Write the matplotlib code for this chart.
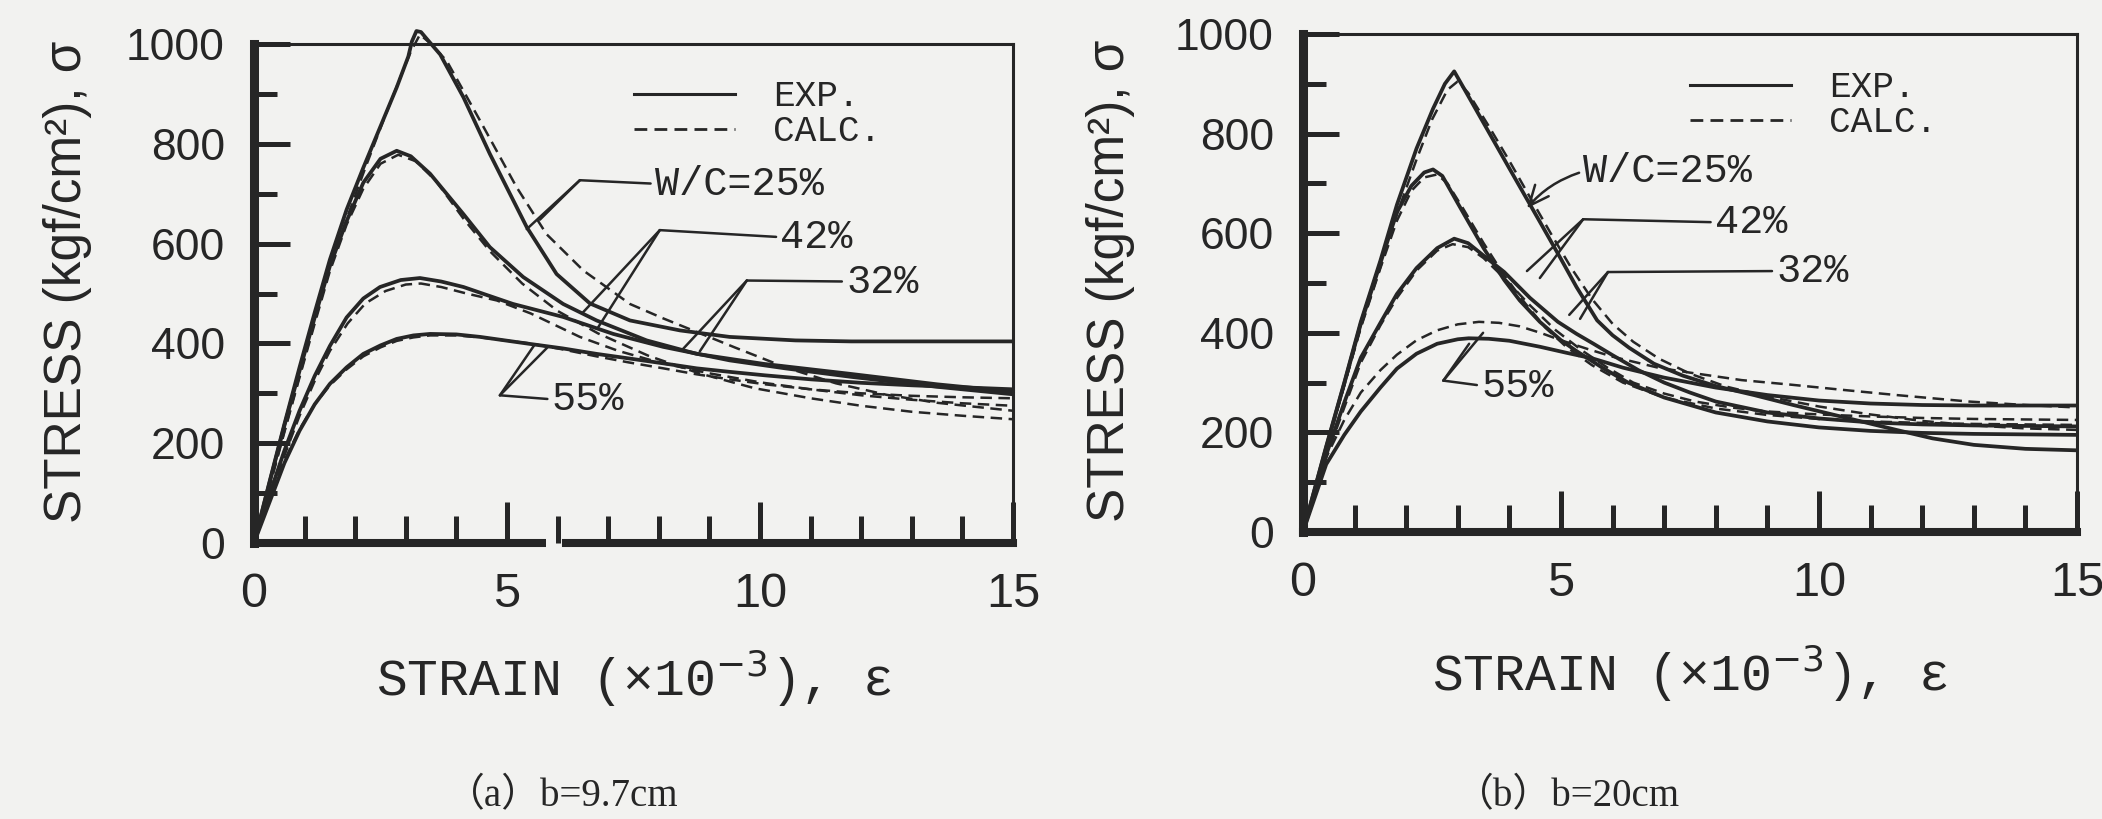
import matplotlib
matplotlib.use("Agg")
import matplotlib.pyplot as plt
from matplotlib.lines import Line2D
from matplotlib.ticker import FixedLocator, MultipleLocator

# ---------------- panel (a): b = 9.7 cm ----------------
a25_exp_x = [0, 0.3, 0.6, 0.9, 1.2, 1.5, 1.83, 2.16, 2.5, 2.82, 3.05, 3.12, 3.21, 3.3, 3.4, 3.68,
             4.14, 4.66, 5.39, 5.98, 6.64, 7.43, 8.42, 9.4, 10.7, 11.8, 13.0, 14.0, 15.0]
a25_exp_y = [0, 120, 238, 352, 462, 568, 668, 752, 835, 913, 975, 1005, 1026, 1024, 1012, 979,
             893, 780, 633, 539, 480, 446, 426, 413, 406, 404, 404, 404, 404]
a25_calc_x = [0, 0.3, 0.6, 0.9, 1.2, 1.5, 1.85, 2.2, 2.55, 2.9, 3.1, 3.28, 3.5, 3.81, 4.47,
              5.19, 5.78, 6.51, 7.43, 8.09, 8.7, 9.5, 10.5, 11.5, 12.5, 13.5, 15.0]
a25_calc_y = [0, 112, 224, 335, 445, 550, 655, 752, 845, 935, 985, 1019, 1000, 966, 846,
              713, 619, 546, 479, 450, 425, 392, 352, 320, 297, 281, 265]

a42_exp_x = [0, 0.3, 0.6, 0.9, 1.2, 1.5, 1.83, 2.16, 2.5, 2.82, 3.1, 3.48, 4.14, 4.66, 5.32,
             6.11, 6.77, 7.76, 8.75, 10.07, 11.78, 13.5, 15.0]
a42_exp_y = [0, 118, 235, 345, 452, 555, 645, 722, 770, 786, 775, 740, 659, 593, 533,
             479, 446, 406, 379, 359, 339, 318, 303]
a42_calc_x = [0, 0.3, 0.6, 0.9, 1.2, 1.5, 1.83, 2.16, 2.5, 2.85, 3.2, 3.6, 4.14, 4.66, 5.3,
              6.0, 6.8, 7.8, 8.8, 9.9, 11.0, 12.0, 13.0, 14.0, 15.0]
a42_calc_y = [0, 110, 222, 332, 440, 545, 638, 710, 760, 778, 765, 725, 650, 585, 520,
              465, 420, 375, 340, 310, 290, 275, 263, 255, 248]

a32_exp_x = [0, 0.3, 0.6, 0.9, 1.2, 1.5, 1.83, 2.16, 2.49, 2.9, 3.28, 3.7, 4.14, 4.6, 5.12,
             6.11, 7.1, 8.09, 9.4, 10.5, 11.8, 13.5, 15.0]
a32_exp_y = [0, 95, 185, 265, 335, 395, 452, 490, 513, 527, 531, 524, 513, 497, 479,
             453, 419, 393, 366, 350, 333, 313, 298]
a32_calc_x = [0, 0.3, 0.6, 0.9, 1.2, 1.5, 1.85, 2.2, 2.6, 3.0, 3.3, 3.7, 4.2, 4.8, 5.47,
              6.44, 7.2, 8.0, 9.0, 10.0, 11.0, 12.0, 13.0, 14.0, 15.0]
a32_calc_y = [0, 90, 175, 255, 325, 385, 440, 480, 505, 518, 520, 513, 500, 486, 460,
              413, 385, 362, 340, 322, 308, 296, 287, 280, 275]

a55_x = [0, 0.3, 0.6, 0.9, 1.2, 1.5, 1.83, 2.16, 2.5, 2.82, 3.15, 3.48, 4.0, 4.47, 5.45,
         6.1, 6.77, 7.4, 8.09, 8.75, 9.4, 10.1, 11.0, 12.0, 13.0, 14.0, 15.0]
a55_exp_y = [0, 80, 160, 225, 278, 319, 352, 379, 396, 409, 416, 419, 418, 413, 399,
             390, 379, 370, 360, 350, 343, 336, 328, 321, 316, 312, 308]
a55_calc_y = [0, 85, 165, 228, 278, 316, 348, 374, 392, 405, 412, 416, 416, 412, 400,
              388, 374, 362, 350, 338, 328, 318, 308, 300, 295, 292, 290]

# ---------------- panel (b): b = 20 cm ----------------
b25_exp_x = [0, 0.45, 0.8, 1.12, 1.5, 1.82, 2.2, 2.52, 2.75, 2.93, 3.2, 3.6, 4.0, 4.32, 4.59,
             5.0, 5.3, 5.7, 6.0, 6.32, 6.8, 7.36, 8.0, 8.74, 9.5, 10.5, 11.5, 12.2, 13.0, 14.0, 15.0]
b25_exp_y = [0, 172, 300, 422, 545, 657, 770, 850, 900, 925, 876, 803, 730, 672, 623,
             548, 492, 425, 395, 370, 338, 314, 293, 275, 255, 230, 205, 188, 175, 167, 164]
b25_calc_x = [0, 0.45, 0.8, 1.12, 1.5, 1.82, 2.2, 2.5, 2.8, 3.0, 3.2, 3.6, 4.0, 4.4, 4.8,
              5.2, 5.6, 6.0, 6.4, 6.9, 7.5, 8.2, 9.0, 10.0, 11.0, 12.0, 13.0, 14.0, 15.0]
b25_calc_y = [0, 168, 295, 412, 532, 638, 748, 828, 888, 905, 882, 815, 745, 672, 600,
              530, 468, 418, 382, 348, 318, 292, 272, 252, 236, 223, 214, 208, 205]

b42_exp_x = [0, 0.45, 0.8, 1.12, 1.5, 1.82, 2.1, 2.35, 2.52, 2.7, 3.0, 3.21, 3.5, 3.9, 4.2,
             4.59, 5.0, 5.29, 5.8, 6.3, 7.0, 8.0, 9.0, 10.0, 11.0, 12.0, 13.0, 14.0, 15.0]
b42_exp_y = [0, 170, 298, 418, 540, 642, 695, 722, 728, 715, 660, 622, 570, 506, 465,
             422, 385, 364, 330, 300, 270, 240, 222, 210, 203, 199, 197, 196, 195]
b42_calc_x = [0, 0.45, 0.8, 1.12, 1.5, 1.82, 2.1, 2.35, 2.6, 2.8, 3.1, 3.5, 3.9, 4.3, 4.7,
              5.1, 5.6, 6.2, 7.0, 8.0, 9.0, 10.0, 11.0, 12.0, 13.0, 14.0, 15.0]
b42_calc_y = [0, 168, 295, 410, 530, 625, 685, 712, 718, 700, 650, 580, 515, 460, 410,
              372, 335, 300, 270, 248, 235, 227, 222, 219, 217, 216, 215]

b32_exp_x = [0, 0.45, 0.8, 1.12, 1.5, 1.82, 2.2, 2.6, 2.93, 3.2, 3.5, 3.9, 4.4, 4.94, 5.3,
             5.63, 6.0, 6.5, 7.0, 7.5, 8.0, 9.0, 10.0, 11.0, 12.0, 13.0, 14.0, 15.0]
b32_exp_y = [0, 155, 260, 350, 420, 478, 530, 570, 589, 580, 555, 522, 470, 422, 398,
             378, 355, 325, 300, 280, 262, 240, 228, 220, 216, 214, 213, 212]
b32_calc_x = [0, 0.45, 0.8, 1.12, 1.5, 1.82, 2.2, 2.6, 2.9, 3.2, 3.5, 3.9, 4.4, 4.9, 5.4,
              5.9, 6.4, 7.0, 7.6, 8.3, 9.0, 10.0, 11.0, 12.0, 13.0, 14.0, 15.0]
b32_calc_y = [0, 150, 250, 340, 415, 470, 525, 565, 578, 572, 550, 510, 455, 405, 365,
              330, 300, 278, 262, 250, 242, 236, 232, 229, 227, 226, 225]

b55_exp_x = [0, 0.45, 0.8, 1.12, 1.5, 1.82, 2.2, 2.6, 3.0, 3.21, 3.6, 4.0, 4.59, 5.1, 5.63,
             6.2, 7.0, 8.0, 9.0, 10.0, 11.0, 12.0, 13.0, 14.0, 15.0]
b55_exp_y = [0, 136, 195, 242, 290, 328, 358, 378, 387, 389, 388, 384, 372, 360, 348,
             330, 310, 290, 275, 264, 258, 255, 254, 254, 254]
b55_calc_x = [0, 0.45, 0.8, 1.12, 1.5, 1.82, 2.2, 2.6, 3.0, 3.41, 3.8, 4.2, 4.6, 5.0, 5.5,
              6.0, 6.88, 7.5, 8.5, 9.44, 10.5, 11.5, 12.9, 14.0, 15.0]
b55_calc_y = [0, 150, 225, 280, 325, 356, 385, 405, 417, 422, 420, 413, 400, 385, 368,
              352, 330, 320, 305, 296, 285, 275, 262, 255, 250]

# ---------------- text ----------------
x_tick_values = [0, 5, 10, 15]
y_tick_values = [0, 200, 400, 600, 800, 1000]
legend_labels = ["EXP.", "CALC."]
series_labels = ["W/C=25%", "42%", "32%", "55%"]
x_label = "STRAIN (×10$^{-3}$), ε"
y_label = "STRESS (kgf/cm²), σ"
captions = ["（a）b=9.7cm", "（b）b=20cm"]

# ---------------- style ----------------
PAPER = "#f2f2f0"
INK = "#262626"
DASH = (0, (4.6, 2.6))
SANS = ["Liberation Sans", "DejaVu Sans"]
MONO = ["Liberation Mono", "DejaVu Sans Mono", "DejaVu Sans"]
SERIF = ["Liberation Serif", "Noto Sans CJK JP", "DejaVu Serif"]

W, H = 2102, 819
fig = plt.figure(figsize=(W / 100, H / 100), dpi=100, facecolor=PAPER)

ax_a = fig.add_axes([254 / W, 1 - 543 / H, 759 / W, 499 / H])
ax_b = fig.add_axes([1303 / W, 1 - 532 / H, 774 / W, 498 / H])


def style_axes(ax, ylabel_xy, xlabel_y):
    ax.set_facecolor(PAPER)
    ax.set_xlim(0, 15)
    ax.set_ylim(0, 1000)
    for side in ("top", "right"):
        ax.spines[side].set_linewidth(2.2)
        ax.spines[side].set_color(INK)
    ax.spines["left"].set_linewidth(6.5)
    ax.spines["bottom"].set_linewidth(5.8)
    ax.spines["left"].set_color(INK)
    ax.spines["bottom"].set_color(INK)

    ax.xaxis.set_major_locator(FixedLocator(x_tick_values))
    ax.xaxis.set_minor_locator(MultipleLocator(1))
    ax.yaxis.set_major_locator(FixedLocator(y_tick_values))
    ax.yaxis.set_minor_locator(MultipleLocator(100))
    ax.set_xticklabels([str(v) for v in x_tick_values])
    ax.set_yticklabels([str(v) for v in y_tick_values])

    ax.tick_params(which="both", direction="in", color=INK, labelcolor=INK,
                   top=False, right=False, width=3.6)
    ax.tick_params(axis="x", which="major", length=29.5, pad=21)
    ax.tick_params(axis="x", which="minor", length=19.5)
    ax.tick_params(axis="y", which="major", length=26, pad=21)
    ax.tick_params(axis="y", which="minor", length=16.5)
    for lab in ax.get_xticklabels():
        lab.set_family(SANS)
        lab.set_fontsize(35)
    for lab in ax.get_yticklabels():
        lab.set_family(SANS)
        lab.set_fontsize(32)

    ax.set_ylabel(y_label, family=SANS, fontsize=37, color=INK,
                  rotation=90, va="center", ha="center")
    ax.yaxis.set_label_coords(*ylabel_xy)
    ax.set_xlabel(x_label, family=MONO, fontsize=37, color=INK,
                  va="center", ha="center")
    ax.xaxis.set_label_coords(0.5, xlabel_y)


def draw_pair(ax, xe, ye, xc, yc):
    ax.plot(xe, ye, color=INK, lw=2.7, solid_joinstyle="round", clip_on=False, zorder=3)
    ax.plot(xc, yc, color=INK, lw=1.8, linestyle=DASH, clip_on=False, zorder=3)


def legend(ax, x0, yc):
    handles = [Line2D([], [], color=INK, lw=2.2),
               Line2D([], [], color=INK, lw=2.0, linestyle=DASH)]
    ax.legend(handles, legend_labels, loc="center left", bbox_to_anchor=(x0, yc),
              bbox_transform=ax.transData, frameon=False, handlelength=2.8,
              handletextpad=1.05, labelspacing=0.0, borderpad=0, borderaxespad=0,
              prop={"family": MONO, "size": 26}, labelcolor=INK)


LEAD = dict(arrowstyle="-", color=INK, lw=1.8, shrinkA=0, shrinkB=0)
TEXT = dict(family=MONO, fontsize=29, color=INK, va="center", ha="left")


def fork_label(ax, text, text_xy, corner, ends):
    ax.annotate(text, xy=corner, xytext=text_xy, textcoords="data",
                arrowprops=dict(LEAD, shrinkA=1, relpos=(0, 0.5)), **TEXT)
    for end in ends:
        ax.annotate("", xy=end, xytext=corner, arrowprops=LEAD)


# ---------------- panel (a) ----------------
style_axes(ax_a, (-0.246, 0.523), -0.27)
# the scanned frame has a short break in the strain axis
ax_a.spines["bottom"].set_bounds(6.17, 15)
ax_a.plot([0, 5.77], [0, 0], color=INK, lw=5.8, solid_capstyle="butt",
          clip_on=False, zorder=2.5)

draw_pair(ax_a, a25_exp_x, a25_exp_y, a25_calc_x, a25_calc_y)
draw_pair(ax_a, a42_exp_x, a42_exp_y, a42_calc_x, a42_calc_y)
draw_pair(ax_a, a32_exp_x, a32_exp_y, a32_calc_x, a32_calc_y)
draw_pair(ax_a, a55_x, a55_exp_y, a55_x, a55_calc_y)
legend(ax_a, 7.51, 859)

fork_label(ax_a, series_labels[0], (7.92, 720), (6.44, 727), [(5.39, 629), (5.65, 648)])
fork_label(ax_a, series_labels[1], (10.4, 613), (8.02, 627), [(6.5, 462), (6.8, 432)])
fork_label(ax_a, series_labels[2], (11.7, 524), (9.74, 526), [(8.48, 389), (8.81, 384)])
fork_label(ax_a, series_labels[3], (5.88, 288), (4.86, 296), [(5.55, 398), (5.8, 392)])

# ---------------- panel (b) ----------------
style_axes(ax_b, (-0.249, 0.504), -0.283)

draw_pair(ax_b, b25_exp_x, b25_exp_y, b25_calc_x, b25_calc_y)
draw_pair(ax_b, b42_exp_x, b42_exp_y, b42_calc_x, b42_calc_y)
draw_pair(ax_b, b32_exp_x, b32_exp_y, b32_calc_x, b32_calc_y)
draw_pair(ax_b, b55_exp_x, b55_exp_y, b55_calc_x, b55_calc_y)
legend(ax_b, 7.5, 857)

ax_b.annotate(series_labels[0], xy=(4.34, 650), xytext=(5.43, 724), textcoords="data",
              arrowprops=dict(arrowstyle="->,head_length=0.5,head_width=0.22", color=INK,
                              lw=1.8, shrinkA=1, shrinkB=0, relpos=(0, 0.5),
                              connectionstyle="arc3,rad=0.15"), **TEXT)
fork_label(ax_b, series_labels[1], (7.98, 622), (5.43, 628), [(4.34, 524), (4.59, 510)])
fork_label(ax_b, series_labels[2], (9.17, 524), (5.91, 522), [(5.16, 436), (5.37, 428)])
fork_label(ax_b, series_labels[3], (3.45, 294), (2.72, 304), [(3.49, 400), (3.22, 378)])

# ---------------- captions ----------------
fig.text(562 / W, 1 - 797 / H, captions[0], family=SERIF, fontsize=28, color=INK,
         ha="center", va="center")
fig.text(1568 / W, 1 - 797 / H, captions[1], family=SERIF, fontsize=28, color=INK,
         ha="center", va="center")

fig.savefig("out.png", dpi=100, facecolor=PAPER)
